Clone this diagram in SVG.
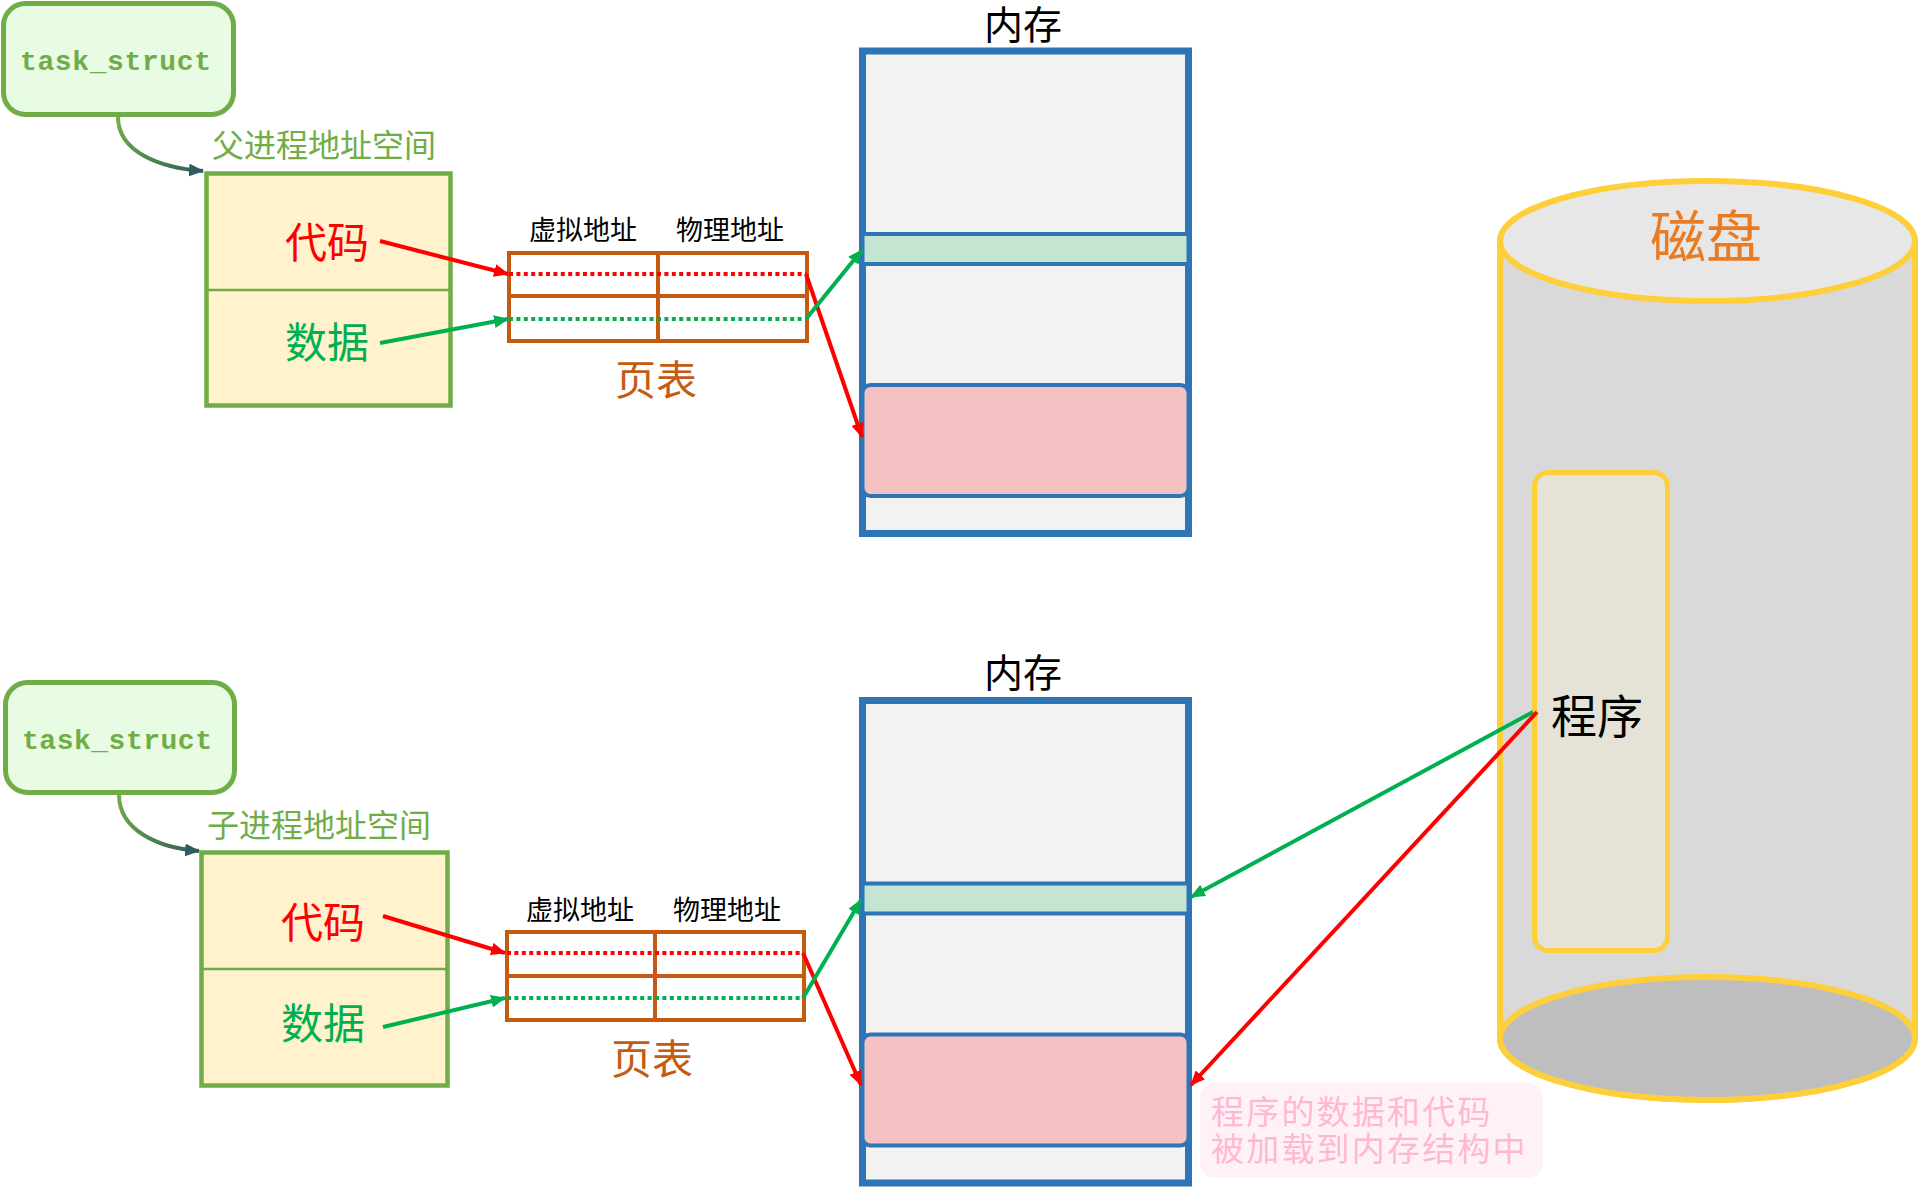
<svg xmlns="http://www.w3.org/2000/svg" width="1922" height="1187" viewBox="0 0 1922 1187">
<style>
  .cjk { font-family: "Noto Sans CJK SC", "Noto Sans", sans-serif; }
  .task { fill: #e8fbe3; stroke: #70ad47; stroke-width: 5; }
  .tasktxt { font-family: "Liberation Mono", "DejaVu Sans Mono", monospace; font-weight: bold; font-size: 28px; fill: #70ad47; }
  .space { fill: #fff2cc; stroke: #70ad47; stroke-width: 4.5; }
  .div { stroke: #70ad47; stroke-width: 2.5; }
  .spacelbl { font-size: 32px; fill: #70ad47; }
  .code { font-size: 42px; fill: #ff0000; }
  .data { font-size: 42px; fill: #00b050; }
  .pt { fill: #ffffff; stroke: #c55a11; stroke-width: 4; }
  .ptline { stroke: #c55a11; stroke-width: 4; }
  .colhdr { font-size: 27px; fill: #000000; }
  .ptlbl { font-size: 41px; fill: #c55a11; }
  .mem { fill: #f2f2f2; stroke: #2e75b6; stroke-width: 7; }
  .memg { fill: #c3e5d2; stroke: #2e75b6; stroke-width: 4; }
  .memp { fill: #f4c2c2; stroke: #2e75b6; stroke-width: 4; }
  .memlbl { font-family: "Liberation Sans", "Noto Sans CJK SC", sans-serif; font-size: 39px; fill: #000000; }
  .yel { stroke: #fdd03b; stroke-width: 6; }
  .red { stroke: #ff0000; stroke-width: 4; fill: none; }
  .grn { stroke: #00b050; stroke-width: 4; fill: none; }
  .dotr { stroke: #ff0000; stroke-width: 4; stroke-dasharray: 4 3.4; }
  .dotg { stroke: #00b050; stroke-width: 4; stroke-dasharray: 4 3.4; }
  .note { font-family: "Liberation Sans", "Noto Sans CJK SC", sans-serif; font-size: 33px; letter-spacing: 2.2px; fill: #ffb8d3; }
</style>
<defs>
  <marker id="ar" viewBox="0 0 14 12" markerWidth="15" markerHeight="13" refX="13" refY="6" orient="auto" markerUnits="userSpaceOnUse">
    <path d="M0,0 L14,6 L0,12 z" fill="#ff0000"/>
  </marker>
  <marker id="ag" viewBox="0 0 14 12" markerWidth="15" markerHeight="13" refX="13" refY="6" orient="auto" markerUnits="userSpaceOnUse">
    <path d="M0,0 L14,6 L0,12 z" fill="#00b050"/>
  </marker>
  <marker id="at" viewBox="0 0 14 12" markerWidth="15" markerHeight="13" refX="13" refY="6" orient="auto" markerUnits="userSpaceOnUse">
    <path d="M0,0 L14,6 L0,12 z" fill="#2f5d5d"/>
  </marker>
  <linearGradient id="gc1" gradientUnits="userSpaceOnUse" x1="118" y1="117" x2="203" y2="171">
    <stop offset="0" stop-color="#70ad47"/>
    <stop offset="1" stop-color="#2f5d5d"/>
  </linearGradient>
  <linearGradient id="gc2" gradientUnits="userSpaceOnUse" x1="119" y1="795" x2="199" y2="851">
    <stop offset="0" stop-color="#70ad47"/>
    <stop offset="1" stop-color="#2f5d5d"/>
  </linearGradient>
</defs>

<!-- Disk -->
<g id="disk">
  <path class="yel" fill="#d9d9d9" d="M1500,241 L1500,1038.5 A207.5,61.5 0 0 0 1915,1038.5 L1915,241 Z"/>
  <ellipse class="yel" fill="#bebebe" cx="1707.5" cy="1038.5" rx="207.5" ry="61.5"/>
  <ellipse class="yel" fill="#e7e7e7" cx="1707.5" cy="241" rx="207.5" ry="60"/>
  <text class="cjk" x="1706" y="257" font-size="56" fill="#e97c23" text-anchor="middle">磁盘</text>
</g>
<g id="program">
  <rect x="1534.5" y="472.5" width="133" height="478" rx="14" fill="#e5e3d7" stroke="#fdd03b" stroke-width="5"/>
  <text class="cjk" x="1551" y="733" font-size="46" fill="#000000">程序</text>
</g>

<!-- Parent -->
<g id="task1">
  <rect class="task" x="3.5" y="3.5" width="230" height="111" rx="22"/>
  <text class="tasktxt" x="20" y="70" textLength="191" lengthAdjust="spacing">task_struct</text>
</g>
<g id="space1">
  <text class="cjk spacelbl" x="212" y="157">父进程地址空间</text>
  <rect class="space" x="206.5" y="173.5" width="244" height="232"/>
  <line class="div" x1="206.5" y1="290" x2="450.5" y2="290"/>
  <text class="cjk code" x="327" y="258" text-anchor="middle">代码</text>
  <text class="cjk data" x="327" y="358" text-anchor="middle">数据</text>
</g>
<g id="pagetable1">
  <text class="cjk colhdr" x="583" y="240" text-anchor="middle">虚拟地址</text>
  <text class="cjk colhdr" x="730" y="240" text-anchor="middle">物理地址</text>
  <rect class="pt" x="509" y="253" width="298" height="88"/>
  <line class="ptline" x1="658" y1="253" x2="658" y2="341"/>
  <line class="ptline" x1="509" y1="296" x2="807" y2="296"/>
  <line class="dotr" x1="509" y1="274" x2="806" y2="274"/>
  <line class="dotg" x1="509" y1="319" x2="806" y2="319"/>
  <text class="cjk ptlbl" x="656" y="395" text-anchor="middle">页表</text>
</g>
<g id="memory1">
  <text class="memlbl" x="1023" y="39" text-anchor="middle">内存</text>
  <rect class="mem" x="862.5" y="51" width="326" height="482.5"/>
  <rect class="memg" x="862.5" y="234" width="326" height="30"/>
  <rect class="memp" x="862.5" y="385" width="326" height="111" rx="8"/>
</g>

<!-- Child -->
<g id="task2">
  <rect class="task" x="5.5" y="682.5" width="229" height="110" rx="22"/>
  <text class="tasktxt" x="22" y="749" textLength="190" lengthAdjust="spacing">task_struct</text>
</g>
<g id="space2">
  <text class="cjk spacelbl" x="207" y="837">子进程地址空间</text>
  <rect class="space" x="201.5" y="852.5" width="246" height="233"/>
  <line class="div" x1="201.5" y1="969" x2="447.5" y2="969"/>
  <text class="cjk code" x="323" y="938" text-anchor="middle">代码</text>
  <text class="cjk data" x="323" y="1039" text-anchor="middle">数据</text>
</g>
<g id="pagetable2">
  <text class="cjk colhdr" x="580" y="920" text-anchor="middle">虚拟地址</text>
  <text class="cjk colhdr" x="727" y="920" text-anchor="middle">物理地址</text>
  <rect class="pt" x="507" y="932" width="297" height="88"/>
  <line class="ptline" x1="655" y1="932" x2="655" y2="1020"/>
  <line class="ptline" x1="507" y1="976" x2="804" y2="976"/>
  <line class="dotr" x1="507" y1="953" x2="803" y2="953"/>
  <line class="dotg" x1="507" y1="998" x2="803" y2="998"/>
  <text class="cjk ptlbl" x="652" y="1074" text-anchor="middle">页表</text>
</g>
<g id="memory2">
  <text class="memlbl" x="1023" y="687" text-anchor="middle">内存</text>
  <rect class="mem" x="862.5" y="700.5" width="326" height="482.5"/>
  <rect class="memg" x="862.5" y="883.5" width="326" height="30"/>
  <rect class="memp" x="862.5" y="1034.5" width="326" height="111" rx="8"/>
</g>

<g id="note">
  <rect x="1200" y="1083" width="343" height="95" rx="15" fill="#fff2f6"/>
  <text class="note"><tspan x="1211" y="1124">程序的数据和代码</tspan><tspan x="1211" y="1161">被加载到内存结构中</tspan></text>
</g>

<!-- Connectors -->
<g id="connectors">
  <path d="M118,117 C118,152 160,168 203,171" fill="none" stroke="url(#gc1)" stroke-width="4" marker-end="url(#at)"/>
  <path d="M119,795 C119,830 158,848 199,851" fill="none" stroke="url(#gc2)" stroke-width="4" marker-end="url(#at)"/>

  <line class="red" x1="380" y1="241" x2="508" y2="274" marker-end="url(#ar)"/>
  <line class="grn" x1="380" y1="343" x2="508" y2="319" marker-end="url(#ag)"/>
  <line class="red" x1="806" y1="274" x2="862" y2="437" marker-end="url(#ar)"/>
  <line class="grn" x1="806" y1="319" x2="862" y2="250" marker-end="url(#ag)"/>

  <line class="red" x1="383" y1="916" x2="505" y2="953" marker-end="url(#ar)"/>
  <line class="grn" x1="383" y1="1027" x2="505" y2="998" marker-end="url(#ag)"/>
  <line class="red" x1="803" y1="953" x2="861" y2="1085" marker-end="url(#ar)"/>
  <line class="grn" x1="803" y1="998" x2="861" y2="900" marker-end="url(#ag)"/>

  <line class="grn" x1="1533" y1="712" x2="1191" y2="897" marker-end="url(#ag)"/>
  <line class="red" x1="1537" y1="712" x2="1191" y2="1085" marker-end="url(#ar)"/>
</g>
</svg>
